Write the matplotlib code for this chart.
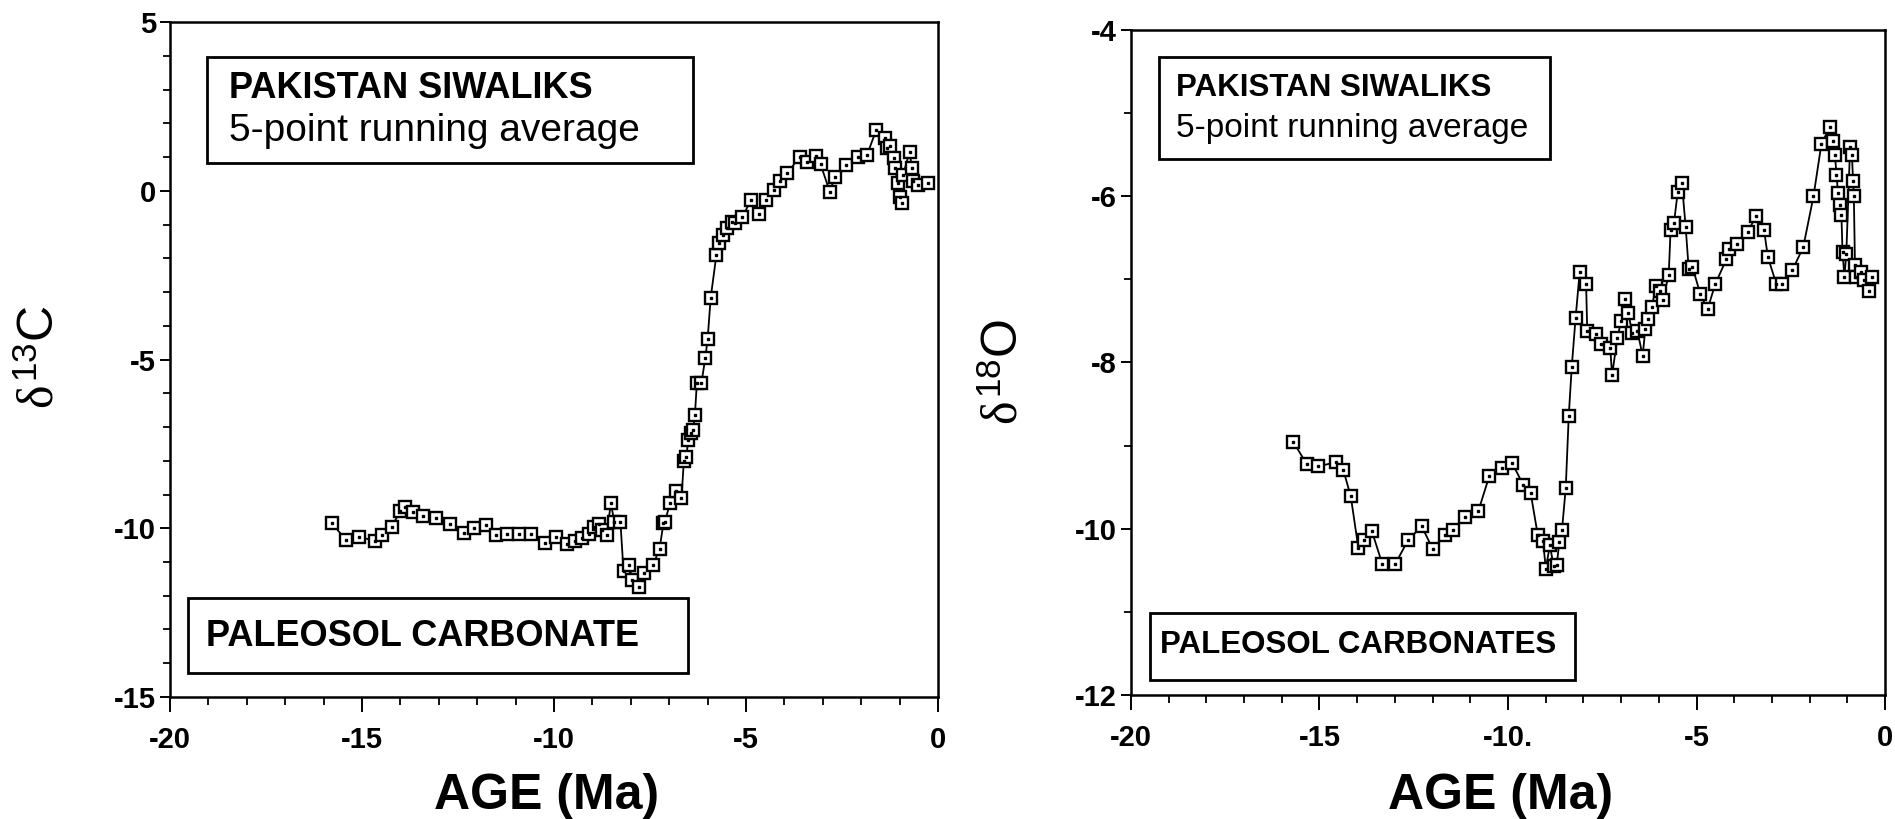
import matplotlib
matplotlib.use("Agg")
import matplotlib.pyplot as plt
from matplotlib.patches import Rectangle
from matplotlib.ticker import MultipleLocator, FixedLocator, FixedFormatter

plt.rcParams['font.family'] = ['Liberation Sans', 'DejaVu Sans']
plt.rcParams['mathtext.fontset'] = 'custom'
plt.rcParams['mathtext.rm'] = 'Liberation Sans'
plt.rcParams['mathtext.it'] = 'Liberation Serif'
plt.rcParams['mathtext.bf'] = 'Liberation Sans:bold'
plt.rcParams['axes.unicode_minus'] = False

# ---------------- data: delta 13C ----------------
age_c = [-15.79, -15.41, -15.07, -14.67, -14.47, -14.23, -14.00, -13.87, -13.66, -13.40,
         -13.06, -12.70, -12.35, -12.08, -11.76, -11.52, -11.22, -10.91, -10.60, -10.24,
         -9.95, -9.66, -9.46, -9.26, -9.10, -8.97, -8.83, -8.74, -8.63, -8.52,
         -8.43, -8.27, -8.19, -8.05, -7.96, -7.79, -7.65, -7.42, -7.25, -7.15,
         -7.11, -6.98, -6.82, -6.68, -6.62, -6.56, -6.50, -6.44, -6.38, -6.33,
         -6.28, -6.16, -6.06, -6.00, -5.92, -5.77, -5.71, -5.61, -5.50, -5.37,
         -5.28, -5.10, -4.87, -4.67, -4.47, -4.27, -4.11, -3.93, -3.60, -3.40,
         -3.19, -3.06, -2.82, -2.68, -2.39, -2.09, -1.85, -1.61, -1.38, -1.32,
         -1.25, -1.15, -1.11, -1.05, -0.98, -0.95, -0.91, -0.74, -0.68, -0.64,
         -0.51, -0.27]
d13c = [-9.85, -10.35, -10.25, -10.38, -10.20, -9.95, -9.50, -9.36, -9.53, -9.63,
        -9.70, -9.88, -10.15, -10.00, -9.90, -10.20, -10.18, -10.18, -10.18, -10.45,
        -10.25, -10.47, -10.38, -10.30, -10.18, -9.95, -9.88, -10.05, -10.20, -9.26,
        -9.80, -9.82, -11.27, -11.09, -11.53, -11.75, -11.34, -11.09, -10.60, -9.85,
        -9.80, -9.26, -8.91, -9.11, -8.02, -7.90, -7.38, -7.18, -7.10, -6.63,
        -5.69, -5.69, -4.95, -4.40, -3.17, -1.89, -1.55, -1.30, -1.10, -0.91,
        -0.96, -0.79, -0.27, -0.69, -0.27, 0.03, 0.28, 0.52, 1.01, 0.84,
        1.04, 0.79, -0.02, 0.42, 0.77, 1.01, 1.06, 1.80, 1.56, 1.26,
        1.34, 0.97, 0.67, 0.23, -0.17, -0.36, 0.47, 1.16, 0.67, 0.28,
        0.18, 0.23]

# ---------------- data: delta 18O ----------------
age_o = [-15.69, -15.34, -15.03, -14.57, -14.37, -14.17, -13.97, -13.81, -13.61, -13.33,
         -13.00, -12.64, -12.29, -12.00, -11.67, -11.46, -11.14, -10.79, -10.50, -10.17,
         -9.89, -9.60, -9.40, -9.21, -9.07, -9.00, -8.89, -8.79, -8.71, -8.64,
         -8.57, -8.47, -8.39, -8.31, -8.21, -8.10, -7.93, -7.90, -7.67, -7.54,
         -7.29, -7.24, -7.10, -7.00, -6.89, -6.81, -6.71, -6.57, -6.43, -6.36,
         -6.29, -6.19, -6.07, -5.97, -5.90, -5.74, -5.69, -5.60, -5.50, -5.39,
         -5.29, -5.21, -5.11, -4.90, -4.71, -4.50, -4.21, -4.14, -3.93, -3.64,
         -3.43, -3.21, -3.11, -2.89, -2.74, -2.46, -2.17, -1.90, -1.69, -1.47,
         -1.39, -1.33, -1.29, -1.25, -1.20, -1.16, -1.13, -1.08, -1.03, -0.93,
         -0.88, -0.85, -0.83, -0.80, -0.76, -0.64, -0.57, -0.43, -0.36]
d18o = [-8.96, -9.22, -9.25, -9.20, -9.29, -9.61, -10.23, -10.13, -10.03, -10.43,
        -10.43, -10.13, -9.97, -10.24, -10.08, -10.02, -9.86, -9.79, -9.37, -9.27,
        -9.21, -9.47, -9.57, -10.08, -10.15, -10.48, -10.20, -10.45, -10.44, -10.16,
        -10.02, -9.51, -8.64, -8.05, -7.47, -6.91, -7.05, -7.62, -7.66, -7.78,
        -7.83, -8.15, -7.70, -7.50, -7.24, -7.40, -7.64, -7.62, -7.92, -7.60,
        -7.48, -7.33, -7.08, -7.14, -7.25, -6.95, -6.41, -6.32, -5.95, -5.84,
        -6.37, -6.87, -6.85, -7.18, -7.36, -7.05, -6.76, -6.63, -6.57, -6.43,
        -6.24, -6.41, -6.73, -7.05, -7.05, -6.89, -6.61, -6.00, -5.37, -5.17,
        -5.33, -5.51, -5.74, -5.96, -6.10, -6.22, -6.67, -6.97, -6.69, -5.41,
        -5.51, -5.82, -6.00, -6.83, -6.97, -6.91, -7.01, -7.14, -6.97]

xticks = [-20, -15, -10, -5, 0]
xlabels_c = ['-20', '-15', '-10', '-5', '0']
xlabels_o = ['-20', '-15', '-10.', '-5', '0']
yticks_c = [5, 0, -5, -10, -15]
yticks_o = [-4, -6, -8, -10, -12]

fig = plt.figure(figsize=(18.95, 8.19), dpi=100)
ax1 = fig.add_axes([0.0897, 0.149, 0.4053, 0.824])
ax2 = fig.add_axes([0.5968, 0.1514, 0.398, 0.812])


def style(ax, xl, yt, ylim, ymin_step):
    ax.set_xlim(-20, 0)
    ax.set_ylim(*ylim)
    ax.xaxis.set_major_locator(FixedLocator(xticks))
    ax.xaxis.set_major_formatter(FixedFormatter(xl))
    ax.xaxis.set_minor_locator(MultipleLocator(1))
    ax.yaxis.set_major_locator(FixedLocator(yt))
    ax.yaxis.set_minor_locator(MultipleLocator(ymin_step))
    ax.tick_params(axis='x', which='major', direction='out', length=11, width=1.4,
                   pad=10, labelsize=21)
    ax.tick_params(axis='x', which='minor', direction='out', length=6, width=1.3)
    ax.tick_params(axis='y', which='major', direction='out', length=7, width=1.4,
                   pad=3, labelsize=21)
    ax.tick_params(axis='y', which='minor', direction='out', length=5, width=1.3)
    for lab in ax.get_xticklabels() + ax.get_yticklabels():
        lab.set_fontweight('bold')
    for sp in ax.spines.values():
        sp.set_linewidth(1.8)
        sp.set_color('black')


def series(ax, x, y):
    ax.plot(x, y, '-', color='black', lw=1.3, marker='s', ms=8.8,
            mfc='white', mec='black', mew=1.7, zorder=3)
    ax.plot(x, y, 's', color='black', ms=1.8, lw=0, zorder=4)


style(ax1, xlabels_c, yticks_c, (-15, 5), 1)
style(ax2, xlabels_o, yticks_o, (-12, -4), 1)
series(ax1, age_c, d13c)
series(ax2, age_o, d18o)

# labels
ax1.set_ylabel(r'$\delta^{\mathrm{13}}$C', fontsize=36)
ax1.yaxis.label.set_va('center')
ax1.yaxis.set_label_coords(-0.169, 0.504)
ax2.set_ylabel(r'$\delta^{\mathrm{18}}$O', fontsize=36)
ax2.yaxis.label.set_va('center')
ax2.yaxis.set_label_coords(-0.167, 0.486)
for ax, yy in ((ax1, -0.147), (ax2, -0.152)):
    ax.set_xlabel('AGE (Ma)', fontsize=36, fontweight='bold')
    ax.xaxis.label.set_va('center')
    ax.xaxis.set_label_coords(0.49, yy)

# text boxes
def box(ax, x0, y0, x1, y1):
    ax.add_patch(Rectangle((x0, y0), x1 - x0, y1 - y0, transform=ax.transAxes,
                           fill=False, edgecolor='black', lw=2.0, zorder=5))

box(ax1, 0.048, 0.791, 0.681, 0.948)
ax1.text(0.077, 0.902, 'PAKISTAN SIWALIKS', transform=ax1.transAxes, fontsize=26,
         fontweight='bold', ha='left', va='center')
ax1.text(0.077, 0.838, '5-point running average', transform=ax1.transAxes, fontsize=28,
         ha='left', va='center')
box(ax1, 0.023, 0.036, 0.674, 0.147)
ax1.text(0.047, 0.089, 'PALEOSOL CARBONATE', transform=ax1.transAxes, fontsize=26,
         fontweight='bold', ha='left', va='center')

box(ax2, 0.037, 0.806, 0.556, 0.959)
ax2.text(0.060, 0.913, 'PAKISTAN SIWALIKS', transform=ax2.transAxes, fontsize=22.5,
         fontweight='bold', ha='left', va='center')
ax2.text(0.060, 0.852, '5-point running average', transform=ax2.transAxes, fontsize=24,
         ha='left', va='center')
box(ax2, 0.025, 0.023, 0.589, 0.123)
ax2.text(0.039, 0.075, 'PALEOSOL CARBONATES', transform=ax2.transAxes, fontsize=22.5,
         fontweight='bold', ha='left', va='center')

fig.savefig('out.png', dpi=100)
